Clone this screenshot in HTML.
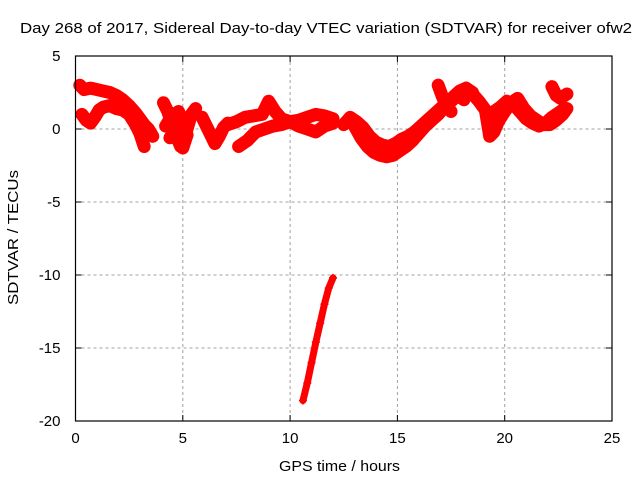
<!DOCTYPE html>
<html><head><meta charset="utf-8"><style>
body{margin:0;background:#fff;width:640px;height:480px;overflow:hidden}
svg text{font-family:"Liberation Sans",sans-serif;font-size:15px;fill:#000}
</style></head><body>
<svg id="chart" width="640" height="480" xmlns="http://www.w3.org/2000/svg">
<rect width="640" height="480" fill="#fff"/>
<g id="grid"></g>
<g id="marks"></g>
<g id="axes"></g>
<text x="20" y="33" textLength="612" lengthAdjust="spacingAndGlyphs">Day 268 of 2017, Sidereal Day-to-day VTEC variation (SDTVAR) for receiver ofw2</text>
<text x="279" y="471" textLength="121" lengthAdjust="spacingAndGlyphs">GPS time / hours</text>
<text transform="translate(18,305) rotate(-90)" textLength="135" lengthAdjust="spacingAndGlyphs">SDTVAR / TECUs</text>
</svg>
<script>
const xTicks=[0,5,10,15,20,25];
const yTicks=[5,0,-5,-10,-15,-20];
// satellite arcs: hours and SDTVAR values
const arc1H=[0.2,0.4,0.7,1.0,1.3,1.6,1.9,2.2,2.5,2.8,3.0,3.2,3.4,3.6];
const arc1V=[3.0,2.7,2.8,2.7,2.6,2.5,2.3,2.0,1.6,1.1,0.7,0.3,0.0,-0.5];
const arc2H=[0.3,0.5,0.7,0.9,1.1,1.3,1.6,1.9,2.2,2.5,2.8,3.0,3.2];
const arc2V=[1.0,0.6,0.4,0.8,1.3,1.5,1.6,1.4,1.3,1.0,0.3,-0.3,-1.2];
const arc3H=[4.1,4.3,4.5,4.7,4.9,5.1,5.3];
const arc3V=[1.8,1.2,0.3,-0.5,-1.2,-0.2,0.8];
const arc4H=[4.2,4.5,4.8,5.0,5.2,5.4,5.6];
const arc4V=[0.2,0.9,1.2,0.5,0.0,1.0,1.4];
const arc4bH=[4.4,4.6,4.8,5.0,5.2];
const arc4bV=[-0.6,-0.2,-0.8,-1.3,-0.4];
const arc5H=[5.9,6.1,6.3,6.5,6.7,6.9,7.1];
const arc5V=[0.8,0.2,-0.4,-1.0,-0.5,0.1,0.4];
const arc6H=[7.1,7.5,7.9,8.3,8.7,9.0,9.3,9.6,10.0,10.4,10.8,11.2,11.6,12.0];
const arc6V=[0.3,0.5,0.8,0.9,1.0,1.9,1.2,0.7,0.5,0.6,0.8,1.0,0.9,0.7];
const arc7H=[7.6,8.0,8.4,8.8,9.2,9.6,10.0,10.4,10.8,11.2,11.6,12.0];
const arc7V=[-1.2,-0.8,-0.2,0.0,0.2,0.3,0.5,0.2,0.0,-0.2,0.2,0.4];
const arc8H=[10.6,10.8,11.0,11.2,11.4,11.6,11.8,12.0];
const arc8V=[-18.6,-17.4,-16.0,-14.6,-13.3,-12.0,-10.9,-10.2];
const arc9H=[12.5,12.8,13.1,13.4,13.7,14.0,14.3,14.6,14.9,15.2,15.5,15.8,16.1,16.4,16.7,17.0,17.3,17.6,17.9,18.2,18.5];
const arc9V=[0.3,0.8,0.5,0.1,-0.5,-0.9,-1.1,-1.2,-1.0,-0.7,-0.5,-0.2,0.2,0.6,1.0,1.4,1.8,2.2,2.6,2.8,2.5];
const arc10H=[13.0,13.3,13.6,13.9,14.2,14.5,14.8,15.1,15.4,15.7,16.0,16.3,16.6,16.9,17.2,17.5,17.8,18.1];
const arc10V=[0.2,-0.6,-1.2,-1.6,-1.8,-1.9,-1.8,-1.5,-1.2,-0.8,-0.3,0.2,0.6,1.0,1.5,1.9,2.3,2.0];
const arc11H=[16.9,17.1,17.3,17.5];
const arc11V=[3.0,2.2,1.6,1.2];
const arc12H=[18.5,18.8,19.1,19.3,19.5,19.7,20.0,20.3,20.6,20.9,21.2,21.5,21.8,22.1,22.4,22.7,22.9];
const arc12V=[2.4,1.9,1.3,-0.5,-0.2,0.5,1.2,1.8,2.1,1.4,0.9,0.6,0.3,0.3,0.6,1.0,1.4];
const arc13H=[19.2,19.5,19.8,20.1,20.4,20.7,21.0,21.3,21.6,21.9,22.2,22.5,22.8];
const arc13V=[0.8,1.2,1.5,1.9,1.7,1.2,0.7,0.4,0.2,0.4,0.8,1.1,1.4];
const arc14H=[22.2,22.4,22.6,22.8,22.9];
const arc14V=[2.9,2.3,2.1,2.3,2.4];
const arcsH=[arc1H,arc2H,arc3H,arc4H,arc4bH,arc5H,arc6H,arc7H,arc8H,arc9H,arc10H,arc11H,arc12H,arc13H,arc14H];
const arcsV=[arc1V,arc2V,arc3V,arc4V,arc4bV,arc5V,arc6V,arc7V,arc8V,arc9V,arc10V,arc11V,arc12V,arc13V,arc14V];

const L=75.5,R=612,T=56,B=421;
const X=h=>L+(h-0)/25*(R-L);
const Y=v=>T+(5-v)/25*(B-T);
const NS="http://www.w3.org/2000/svg";
function mk(t,a,p){const e=document.createElementNS(NS,t);for(const k in a)e.setAttribute(k,a[k]);p.appendChild(e);return e;}
const grid=document.getElementById('grid'),axes=document.getElementById('axes'),marks=document.getElementById('marks');
xTicks.forEach(t=>{
 const x=X(t);
 if(t>0&&t<25){const g=mk('line',{x1:x,y1:T,x2:x,y2:B,stroke:'#a0a0a0','stroke-dasharray':'3,3','stroke-width':1},grid);
 
 }
 mk('line',{x1:x,y1:B,x2:x,y2:B-6,stroke:'#000'},axes);
 mk('line',{x1:x,y1:T,x2:x,y2:T+6,stroke:'#000'},axes);
 const tx=mk('text',{x:x,y:B+22,'text-anchor':'middle'},axes);tx.textContent=t;
 
 
});
yTicks.forEach(t=>{
 const y=Y(t);
 if(t<5&&t>-20){const g=mk('line',{x1:L,y1:y,x2:R,y2:y,stroke:'#a0a0a0','stroke-dasharray':'3,3','stroke-width':1},grid);
 
 }
 mk('line',{x1:L,y1:y,x2:L+6,y2:y,stroke:'#000'},axes);
 mk('line',{x1:R,y1:y,x2:R-6,y2:y,stroke:'#000'},axes);
 const tx=mk('text',{x:L-15,y:y+5,'text-anchor':'end'},axes);tx.textContent=t;
 
 
});
const fr=mk('rect',{x:L,y:T,width:R-L,height:B-T,fill:'none',stroke:'#000','stroke-width':1.2},axes);


arcsH.forEach((hs,i)=>{
 const vs=arcsV[i];
 const g=mk('g',{},marks);
 
 
 const pts=hs.map((h,j)=>X(h)+','+Y(vs[j])).join(' ');
 mk('polyline',{points:pts,fill:'none',stroke:'#f00','stroke-width':i==8?7:13,'stroke-linejoin':'round','stroke-linecap':'round'},g);
 hs.forEach((h,j)=>{
  const x=X(h),y=Y(vs[j]);
  const p=mk('path',{d:`M${x-4},${y}H${x+4}M${x},${y-4}V${y+4}`,stroke:'#f00','stroke-width':1.5},g);
  
  
 });
});
</script>
</body></html>
